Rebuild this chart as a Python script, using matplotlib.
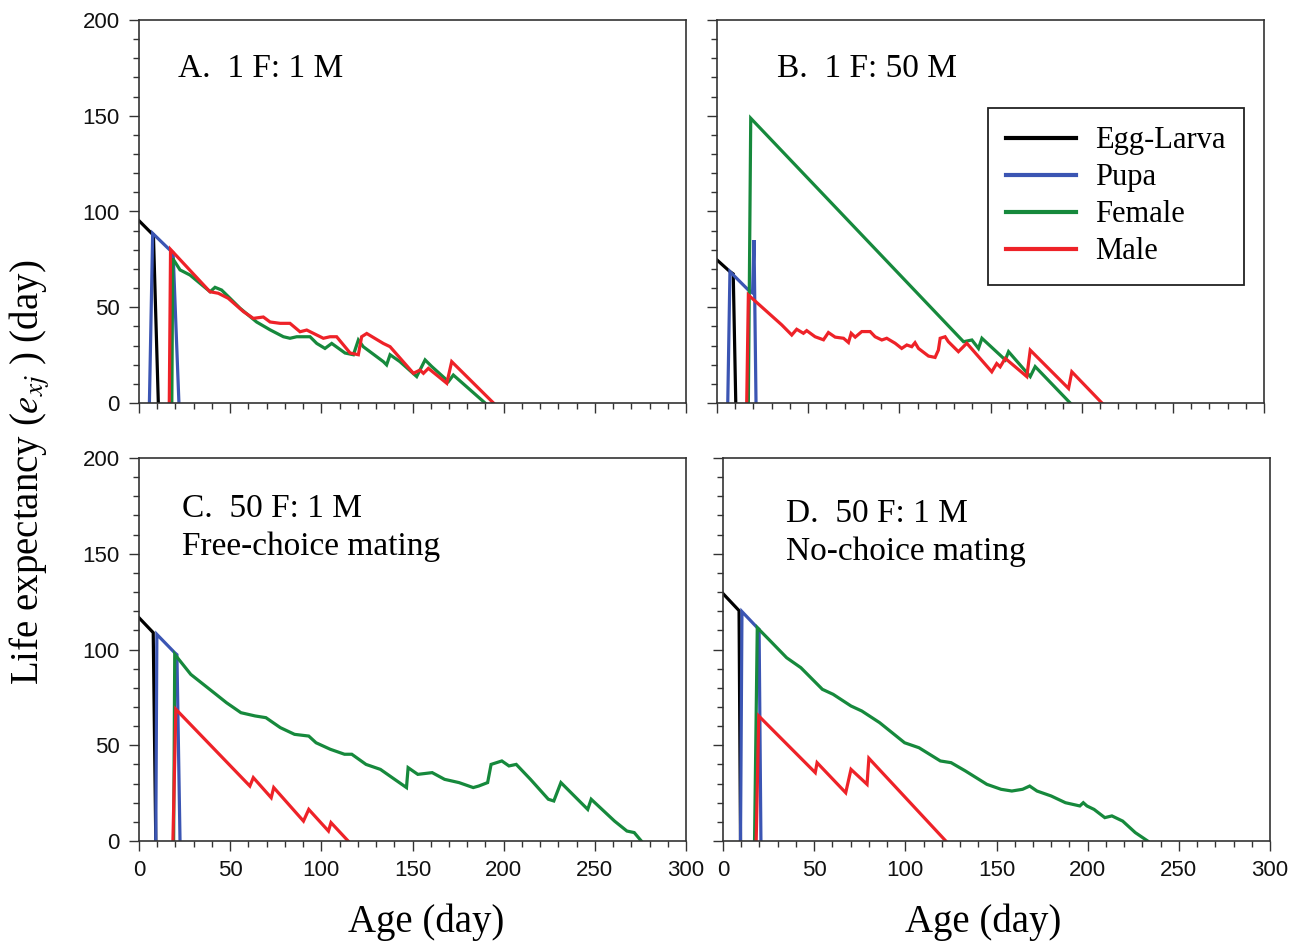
import matplotlib
matplotlib.use('Agg')
from matplotlib import pyplot as plt
from matplotlib.ticker import MultipleLocator

plt.rcParams['font.family'] = ['Liberation Sans', 'DejaVu Sans']
plt.rcParams['mathtext.fontset'] = 'stix'

### panel A  (1 F : 1 M)
a_egg_x = [0, 6.9, 7.9, 10.6]
a_egg_y = [95.2, 88.6, 88.0, 0]
a_pupa_x = [5.7, 7.5, 16.6, 18.7, 21.9]
a_pupa_y = [0, 88.6, 80.2, 78.5, 0]
a_fem_x = [18.0, 18.5, 22.5, 28.0, 39.0, 41.7, 45.3, 49.9, 55.4, 64.5, 71.9, 79.2, 82.8, 86.5, 93.8, 97.5,
           102.0, 105.7, 113.0, 117.6, 120.3, 123.0, 134.0, 135.8, 137.7, 143.1, 152.3, 156.9, 160.5, 169.7,
           172.4, 189.8]
a_fem_y = [0, 75.5, 69.5, 66.8, 58.1, 60.4, 59.0, 54.7, 49.5, 42.3, 38.2, 34.6, 33.8, 34.6, 34.6, 31.1,
           28.5, 31.1, 26.1, 25.2, 32.9, 29.4, 21.6, 19.9, 25.2, 21.6, 13.8, 22.5, 19.1, 11.2,
           14.6, 0]
a_male_x = [16.6, 17.3, 38.9, 43.5, 48.9, 57.3, 62.7, 68.2, 71.9, 77.4, 82.8, 88.3, 92.0, 97.5, 101.1,
            104.8, 108.4, 115.8, 120.3, 122.1, 124.9, 134.0, 137.7, 150.5, 154.1, 156.0, 158.7, 168.8,
            171.5, 194.4]
a_male_y = [0, 80.2, 58.1, 57.3, 54.7, 47.7, 44.2, 44.9, 42.3, 41.6, 41.6, 37.2, 38.1, 35.5, 33.8,
            34.6, 34.6, 26.1, 25.2, 34.6, 36.3, 31.1, 29.4, 15.5, 17.2, 15.5, 18.1, 10.3,
            21.6, 0]

### panel B  (1 F : 50 M)
b_egg_x = [0, 7.1, 8.9, 10.3]
b_egg_y = [74.7, 68.6, 67.4, 0]
b_pupa_x = [5.9, 7.1, 17.2, 19.5, 20.3, 21.4]
b_pupa_y = [0, 68.6, 59.0, 57.5, 85.1, 0]
b_fem_x = [17.2, 18.5, 135.2, 139.8, 143.4, 145.3, 158.1, 159.9, 171.8, 174.5, 193.7]
b_fem_y = [0, 148.7, 32.0, 32.9, 28.5, 33.8, 22.5, 26.8, 13.8, 19.0, 0]
b_male_x = [16.3, 17.2, 35.5, 41.0, 43.7, 47.4, 49.2, 53.8, 58.4, 61.1, 64.8, 69.4, 72.1, 73.6, 75.8,
            79.4, 84.0, 86.7, 90.4, 93.1, 97.7, 101.3, 104.1, 106.8, 108.6, 110.5, 116.0, 119.6, 121.4,
            122.4, 125.1, 126.9, 132.4, 137.0, 150.7, 153.4, 155.3, 158.1, 169.9, 171.8, 192.8, 194.6, 211.1]
b_male_y = [0, 56.4, 40.8, 35.5, 38.5, 36.4, 37.8, 34.6, 33.0, 36.8, 34.4, 33.8, 31.6, 36.4, 34.4,
            37.3, 37.3, 34.6, 32.9, 33.8, 31.2, 28.5, 30.3, 29.4, 31.5, 28.5, 24.5, 23.8, 27.6,
            33.8, 34.6, 32.0, 26.8, 31.2, 16.3, 20.6, 18.9, 23.3, 13.8, 27.6, 7.6, 16.3, 0]

### panel C  (50 F : 1 M, free-choice)
c_egg_x = [0, 7.8, 9.2]
c_egg_y = [116.6, 108.8, 0]
c_pupa_x = [9.2, 9.8, 19.6, 20.8, 22.5]
c_pupa_y = [0, 107.9, 98.3, 97.3, 0]
c_fem_x = [19.0, 19.6, 28.4, 42.2, 48.0, 55.9, 63.7, 69.6, 77.5, 85.3, 93.1, 97.1, 104.9, 112.7, 116.7,
           124.5, 132.4, 140.2, 146.7, 147.6, 152.9, 160.8, 167.6, 175.5, 183.3, 186.3, 191.2, 193.1,
           199.0, 202.9, 206.9, 214.7, 224.5, 227.5, 231.4, 246.1, 248.0, 260.8, 267.6, 271.6, 275.5]
c_fem_y = [0, 97.5, 87.0, 76.6, 72.2, 67.0, 65.3, 64.4, 59.2, 55.7, 54.8, 51.3, 47.9, 45.3, 45.3,
           40.0, 37.4, 32.2, 27.9, 38.3, 34.8, 35.7, 32.2, 30.5, 27.9, 28.7, 30.5, 40.0,
           41.8, 39.2, 40.0, 32.2, 21.8, 20.9, 30.5, 16.5, 21.8, 10.4, 5.2, 4.4, 0]
c_male_x = [18.6, 20.2, 60.8, 62.7, 72.5, 73.9, 90.2, 93.1, 103.9, 105.3, 114.7]
c_male_y = [0, 68.8, 28.7, 33.1, 22.6, 27.9, 10.4, 16.5, 5.2, 9.6, 0]

### panel D  (50 F : 1 M, no-choice)
d_egg_x = [0, 8.8, 9.6]
d_egg_y = [129.2, 120.3, 0]
d_pupa_x = [9.6, 10.4, 18.8, 19.8, 20.8]
d_pupa_y = [0, 119.8, 111.4, 110.5, 0]
d_fem_x = [17.3, 18.8, 25.1, 34.9, 42.7, 54.5, 60.4, 70.2, 76.1, 85.9, 99.6, 107.5, 119.2, 125.1, 132.9,
           144.7, 152.5, 158.4, 164.3, 168.2, 172.2, 180.0, 187.8, 195.7, 197.6, 199.6, 203.5, 209.4,
           213.3, 219.2, 226.1, 232.9]
d_fem_y = [0, 111.4, 105.3, 95.7, 90.5, 79.2, 76.6, 70.5, 67.9, 61.8, 51.3, 48.7, 41.8, 40.9, 36.6,
           29.6, 27.0, 26.1, 27.0, 28.7, 26.1, 23.5, 20.0, 18.3, 20.0, 18.3, 16.5, 12.2,
           13.1, 10.4, 4.4, 0]
d_male_x = [18.2, 19.6, 50.6, 51.6, 67.3, 70.2, 79.0, 80.0, 122.2]
d_male_y = [0, 65.3, 35.7, 40.9, 25.2, 37.4, 29.6, 43.2, 0]

stages = ['Egg-Larva', 'Pupa', 'Female', 'Male']
colors = ['#000000', '#3b55b3', '#16893c', '#ee2228']

panels = [
    ('A.  1 F: 1 M', [(a_egg_x, a_egg_y), (a_pupa_x, a_pupa_y), (a_fem_x, a_fem_y), (a_male_x, a_male_y)]),
    ('B.  1 F: 50 M', [(b_egg_x, b_egg_y), (b_pupa_x, b_pupa_y), (b_fem_x, b_fem_y), (b_male_x, b_male_y)]),
    ('C.  50 F: 1 M\nFree-choice mating', [(c_egg_x, c_egg_y), (c_pupa_x, c_pupa_y), (c_fem_x, c_fem_y), (c_male_x, c_male_y)]),
    ('D.  50 F: 1 M\nNo-choice mating', [(d_egg_x, d_egg_y), (d_pupa_x, d_pupa_y), (d_fem_x, d_fem_y), (d_male_x, d_male_y)]),
]

# axes boxes in pixels (left, top)
W, H = 1299, 944
boxes = [(139, 20), (717, 20), (139, 458), (723, 458)]
aw, ah = 547, 383
text_pos = [(0.071, 0.851), (0.11, 0.851), (0.079, 0.847), (0.116, 0.834)]

fig = plt.figure(figsize=(W / 100, H / 100), dpi=100)
serif = 'Liberation Serif'

for i, (title, series) in enumerate(panels):
    lx, ty = boxes[i]
    ax = fig.add_axes([lx / W, 1 - (ty + ah) / H, aw / W, ah / H])
    for (x, y), c, lab in zip(series, colors, stages):
        ax.plot(x, y, color=c, lw=2.3, label=lab, solid_joinstyle='miter')
    ax.set_xlim(0, 300)
    ax.set_ylim(0, 200)
    ax.xaxis.set_major_locator(MultipleLocator(50))
    ax.xaxis.set_minor_locator(MultipleLocator(10))
    ax.yaxis.set_major_locator(MultipleLocator(50))
    ax.yaxis.set_minor_locator(MultipleLocator(10))
    ax.tick_params(which='major', direction='out', length=7, width=1.0, labelsize=16, pad=7, color='#333333')
    ax.tick_params(which='minor', direction='out', length=4, width=1.0, color='#333333')
    for lbl in ax.get_xticklabels() + ax.get_yticklabels():
        lbl.set_color('#111111')
    for s in ax.spines.values():
        s.set_linewidth(1.2)
        s.set_color('#333333')
    if i < 2:
        ax.tick_params(labelbottom=False)
    if i % 2 == 1:
        ax.tick_params(labelleft=False)
    lines = title.split('\n')
    tx, tyy = text_pos[i]
    ax.text(tx, tyy, lines[0], transform=ax.transAxes, family=serif, fontsize=24, va='baseline')
    if len(lines) > 1:
        ax.text(tx, tyy - 0.1, lines[1], transform=ax.transAxes, family=serif, fontsize=24, va='baseline')
    if i == 1:
        leg = ax.legend(loc='upper left', bbox_to_anchor=(0.495, 0.770), borderaxespad=0,
                        prop={'family': serif, 'size': 22}, handlelength=2.3, handletextpad=0.6,
                        labelspacing=0.26, borderpad=0.6, fancybox=False, framealpha=1)
        leg.get_frame().set_edgecolor('#222222')
        leg.get_frame().set_linewidth(1.3)
        for ln in leg.get_lines():
            ln.set_linewidth(3)

fig.text(426 / W, 0.0127, 'Age (day)', family=serif, fontsize=28, ha='center', va='baseline')
fig.text(983 / W, 0.0127, 'Age (day)', family=serif, fontsize=28, ha='center', va='baseline')
fig.text(30 / W, 0.50, 'Life expectancy ($e_{xj}$ ) (day)', family=serif, fontsize=28,
         rotation=90, ha='center', va='center')

plt.savefig('out.png', dpi=100)
